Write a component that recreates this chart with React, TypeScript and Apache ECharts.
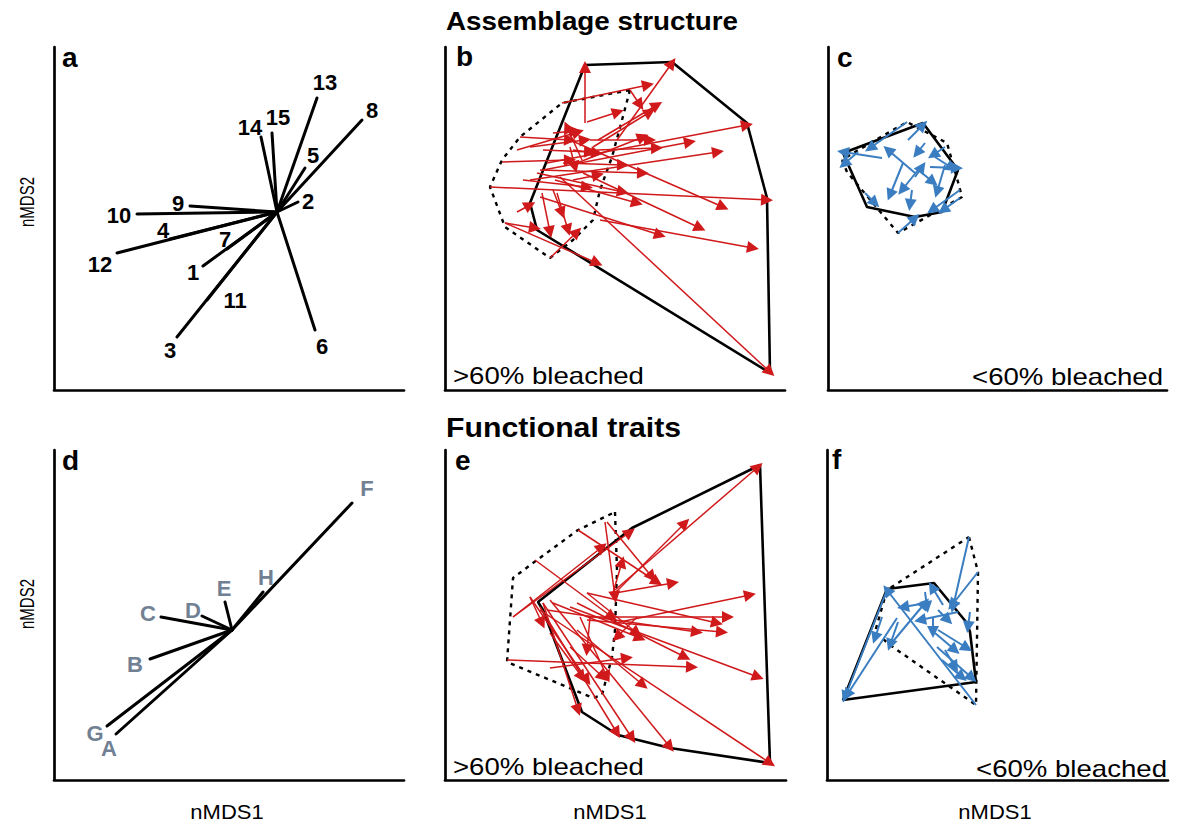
import React, { useEffect, useRef } from "react";
import * as echarts from "echarts";

type Pt = [number, number];
type Arrow = [number, number, number, number];

// ---- Panel a: species vectors (assemblage structure) ----
const speciesNames = ["1", "2", "3", "4", "5", "6", "7", "8", "9", "10", "11", "12", "13", "14", "15"];
const speciesOrigin: Pt = [223, 178];
const speciesTips: Pt[] = [
  [149, 124], [244, 188], [123, 53], [116, 151], [251, 222], [261, 60], [173, 141], [308, 270],
  [136, 184], [83, 176], [153, 90], [63, 137], [263, 292], [207, 253], [218, 257],
];
const speciesLabelPos: Pt[] = [
  [139, 118], [254, 189], [116, 40], [109, 160], [259, 235], [268, 44], [171, 151], [318, 280],
  [124, 187], [65, 175], [181, 90], [46, 126], [271, 308], [196, 263], [224, 273],
];

// ---- Panel d: functional trait vectors ----
const traitNames = ["A", "B", "C", "D", "E", "F", "G", "H"];
const traitOrigin: Pt = [178, 150];
const traitTips: Pt[] = [
  [62, 46], [96, 121], [107, 163], [148, 164], [171, 178], [298, 277], [53, 54], [209, 188],
];
const traitLabelPos: Pt[] = [
  [55, 32], [81, 116], [94, 167], [139, 170], [170, 192], [313, 292], [41, 47], [212, 203],
];

// ---- Panel b: >60% bleached sites, assemblage structure ----
const bHullAfter: Pt[] = [[140, 325], [227, 328], [302, 267], [322, 192], [325, 17], [92, 160], [85, 187], [140, 325]];
const bHullBefore: Pt[] = [
  [185, 300], [177, 270], [167, 233], [155, 200], [148, 170], [128, 150], [105, 132],
  [60, 163], [45, 203], [57, 230], [75, 253], [117, 287], [185, 300],
];
const bShifts: Arrow[] = [
  [140, 267, 140, 323], [172, 250, 227, 327], [117, 287, 203, 305], [142, 268, 173, 278],
  [153, 250, 212, 285], [148, 243, 205, 278], [185, 300, 195, 285], [102, 227, 302, 265],
  [98, 220, 245, 248], [85, 210, 273, 238], [45, 203, 322, 190], [115, 213, 325, 18],
  [125, 250, 278, 183], [138, 217, 255, 162], [155, 170, 308, 142], [95, 193, 215, 155],
  [60, 167, 152, 127], [105, 132, 132, 158], [72, 178, 85, 185], [60, 167, 90, 162],
  [97, 197, 105, 158], [112, 197, 123, 160], [108, 200, 117, 177], [110, 210, 192, 187],
  [92, 217, 178, 198], [95, 220, 198, 217], [118, 227, 178, 225], [128, 210, 153, 215],
  [128, 240, 152, 237], [108, 257, 130, 259], [137, 230, 122, 263], [72, 240, 133, 258],
  [85, 243, 140, 250], [57, 228, 125, 230], [98, 240, 145, 238], [132, 227, 198, 253],
  [145, 250, 205, 250], [152, 240, 212, 242], [78, 210, 142, 203], [125, 243, 130, 223],
  [75, 253, 125, 250],
];

// ---- Panel c: <60% bleached sites, assemblage structure ----
const cHullAfter: Pt[] = [[15, 237], [95, 267], [130, 220], [114, 178], [87, 173], [39, 183], [15, 237]];
const cHullBefore: Pt[] = [
  [14, 230], [19, 218], [70, 157], [97, 172], [134, 193], [130, 208], [119, 247], [79, 268], [27, 238], [14, 230],
];
const cShifts: Arrow[] = [
  [79, 268, 42, 242], [80, 250, 95, 265], [54, 232, 15, 238], [30, 238, 16, 226],
  [87, 217, 60, 240], [75, 227, 62, 195], [94, 225, 74, 200], [97, 247, 89, 237],
  [117, 243, 105, 235], [102, 223, 129, 222], [117, 225, 109, 198], [94, 217, 105, 208],
  [84, 200, 82, 185], [37, 197, 47, 187], [132, 200, 104, 180], [132, 192, 115, 180],
  [70, 157, 87, 172], [107, 233, 124, 222], [87, 213, 94, 223],
];

// ---- Panel e: >60% bleached sites, functional traits ----
const eHullAfter: Pt[] = [[315, 315], [325, 17], [225, 32], [173, 45], [137, 68], [98, 170], [93, 178], [187, 252], [315, 315]];
const eHullBefore: Pt[] = [
  [170, 268], [172, 210], [170, 150], [167, 123], [157, 85], [148, 82], [122, 93], [62, 118],
  [68, 202], [92, 220], [133, 250], [170, 268],
];
const eShifts: Arrow[] = [
  [170, 190, 313, 313], [68, 163, 157, 233], [68, 163, 185, 248], [133, 250, 212, 198],
  [162, 258, 207, 203], [168, 187, 177, 218], [170, 187, 240, 257], [170, 187, 228, 197],
  [142, 187, 272, 157], [170, 157, 305, 185], [145, 163, 283, 163], [142, 160, 277, 148],
  [102, 170, 252, 148], [132, 177, 240, 123], [125, 173, 313, 103], [95, 170, 325, 17],
  [105, 180, 225, 33], [98, 177, 187, 42], [95, 173, 172, 47], [98, 177, 133, 70],
  [62, 120, 247, 113], [105, 112, 182, 122], [132, 150, 198, 95], [85, 183, 142, 100],
  [192, 163, 172, 143], [108, 177, 195, 142], [145, 163, 142, 130], [135, 163, 162, 103],
  [125, 133, 158, 103], [85, 183, 97, 157], [105, 147, 137, 103], [142, 187, 192, 147],
  [160, 258, 170, 183], [90, 220, 167, 163],
];

// ---- Panel f: <60% bleached sites, functional traits ----
const fHullAfter: Pt[] = [[60, 191], [107, 197], [140, 157], [143, 148], [149, 98], [16, 80], [60, 191]];
const fHullBefore: Pt[] = [[142, 243], [151, 208], [149, 75], [63, 135], [48, 148], [60, 190], [142, 243]];
const fShifts: Arrow[] = [
  [60, 190, 18, 83], [70, 162, 20, 85], [149, 75, 60, 190], [142, 243, 126, 173],
  [151, 208, 125, 175], [100, 177, 76, 173], [63, 135, 98, 177], [116, 175, 105, 193],
  [98, 188, 100, 173], [131, 168, 93, 160], [111, 170, 121, 160], [106, 163, 106, 148],
  [108, 147, 128, 130], [111, 150, 140, 132], [118, 130, 128, 113], [110, 133, 145, 102],
  [115, 120, 135, 103], [143, 168, 141, 153], [55, 163, 48, 142], [71, 158, 63, 135],
];

const FONT = '"Liberation Sans", Arial, Helvetica, sans-serif';
const RED = "#d0191b";
const BLUE = "#3a7ec1";
const SLATE = "#718193";

// Plot boxes in px: left, top, width, height
const boxes = [
  [54, 47, 350, 343],
  [445, 47, 340, 343],
  [828, 47, 339, 343],
  [54, 450, 350, 330],
  [445, 450, 341, 330],
  [827, 450, 341, 330],
];

function vectorSeries(i: number, origin: Pt, tips: Pt[]) {
  return {
    type: "lines",
    coordinateSystem: "cartesian2d",
    xAxisIndex: i,
    yAxisIndex: i,
    silent: true,
    clip: false,
    symbol: ["none", "none"],
    lineStyle: { color: "#000", width: 3, opacity: 1, cap: "round" },
    data: tips.map((t) => ({ coords: [origin, t] })),
    z: 3,
  };
}

function labelSeries(i: number, names: string[], pos: Pt[], color: string, size: number) {
  return {
    type: "scatter",
    xAxisIndex: i,
    yAxisIndex: i,
    silent: true,
    clip: false,
    symbolSize: 1,
    itemStyle: { color: "rgba(0,0,0,0)" },
    label: {
      show: true,
      position: "inside",
      formatter: "{b}",
      color,
      opacity: 1,
      textBorderWidth: 0,
      textBorderColor: "transparent",
      fontSize: size,
      fontWeight: "bold",
      fontFamily: FONT,
    },
    data: names.map((n, k) => ({ name: n, value: pos[k] })),
    z: 4,
  };
}

function hullSeries(i: number, pts: Pt[], dashed: boolean) {
  return {
    type: "line",
    xAxisIndex: i,
    yAxisIndex: i,
    silent: true,
    clip: false,
    symbol: "none",
    showSymbol: false,
    lineStyle: dashed
      ? { color: "#000", width: 2.4, type: [4, 5] }
      : { color: "#000", width: 2.6, type: "solid" },
    data: pts,
    z: 2,
  };
}

function arrowSeries(i: number, list: Arrow[], color: string, width: number) {
  return {
    type: "lines",
    coordinateSystem: "cartesian2d",
    xAxisIndex: i,
    yAxisIndex: i,
    silent: true,
    clip: false,
    symbol: ["none", "triangle"],
    symbolSize: 12,
    lineStyle: { color, width, opacity: 1 },
    data: list.map((a) => ({ coords: [[a[0], a[1]], [a[2], a[3]]] })),
    z: 3,
  };
}

function txt(
  text: string,
  x: number,
  y: number,
  font: string,
  align: string,
  opts: Record<string, number> = {},
  fill = "#000"
) {
  return {
    type: "text",
    x,
    y,
    ...opts,
    silent: true,
    style: { text, font, fill, align, verticalAlign: "middle" },
  };
}

export default function App() {
  const ref = useRef<HTMLDivElement>(null);

  useEffect(() => {
    if (!ref.current) return;
    const chart = echarts.init(ref.current, undefined, { renderer: "svg" });

    const grid = boxes.map((b) => ({ left: b[0], top: b[1], width: b[2], height: b[3], containLabel: false }));
    const axisCommon = {
      type: "value",
      axisLine: { show: true, onZero: false, lineStyle: { color: "#000", width: 2.7 } },
      axisTick: { show: false },
      axisLabel: { show: false },
      splitLine: { show: false },
    };
    const xAxis = boxes.map((b, i) => ({ ...axisCommon, gridIndex: i, min: 0, max: b[2] }));
    const yAxis = boxes.map((b, i) => ({ ...axisCommon, gridIndex: i, min: 0, max: b[3] }));

    const series = [
      vectorSeries(0, speciesOrigin, speciesTips),
      labelSeries(0, speciesNames, speciesLabelPos, "#000", 22),
      hullSeries(1, bHullAfter, false),
      hullSeries(1, bHullBefore, true),
      arrowSeries(1, bShifts, RED, 1.5),
      hullSeries(2, cHullAfter, false),
      hullSeries(2, cHullBefore, true),
      arrowSeries(2, cShifts, BLUE, 2),
      vectorSeries(3, traitOrigin, traitTips),
      labelSeries(3, traitNames, traitLabelPos, SLATE, 22),
      hullSeries(4, eHullAfter, false),
      hullSeries(4, eHullBefore, true),
      arrowSeries(4, eShifts, RED, 1.5),
      hullSeries(5, fHullAfter, false),
      hullSeries(5, fHullBefore, true),
      arrowSeries(5, fShifts, BLUE, 2),
    ];

    const bold = (s: number) => `bold ${s}px ${FONT}`;
    const reg = (s: number) => `${s}px ${FONT}`;

    const graphic = [
      txt("Assemblage structure", 446, 21, bold(26), "left", { scaleX: 1.07 }),
      txt("Functional traits", 446, 428, bold(27), "left", { scaleX: 1.12 }),
      txt("a", 62, 57, bold(28), "left"),
      txt("b", 456, 56, bold(28), "left"),
      txt("c", 837, 57, bold(28), "left"),
      txt("d", 62, 460, bold(28), "left"),
      txt("e", 455, 460, bold(28), "left"),
      txt("f", 832, 459, bold(28), "left"),
      txt("nMDS2", 27, 202, reg(15), "center", { rotation: Math.PI / 2, scaleY: 1.3 }),
      txt("nMDS2", 27, 604, reg(15), "center", { rotation: Math.PI / 2, scaleY: 1.3 }),
      txt("nMDS1", 227, 812, reg(20), "center", { scaleX: 1.1 }),
      txt("nMDS1", 610, 812, reg(20), "center", { scaleX: 1.1 }),
      txt("nMDS1", 995, 812, reg(20), "center", { scaleX: 1.1 }),
      txt(">60% bleached", 453, 376, reg(23), "left", { scaleX: 1.2 }),
      txt("<60% bleached", 1163, 377, reg(23), "right", { scaleX: 1.2 }),
      txt(">60% bleached", 453, 767, reg(23), "left", { scaleX: 1.2 }),
      txt("<60% bleached", 1167, 769, reg(23), "right", { scaleX: 1.2 }),
    ];

    chart.setOption({
      animation: false,
      backgroundColor: "#fff",
      grid,
      xAxis,
      yAxis,
      series,
      graphic,
    } as any);

    return () => chart.dispose();
  }, []);

  return (
    <div
      ref={ref}
      style={{ position: "absolute", left: 0, top: 0, width: 1177, height: 825, background: "#fff" }}
    />
  );
}
